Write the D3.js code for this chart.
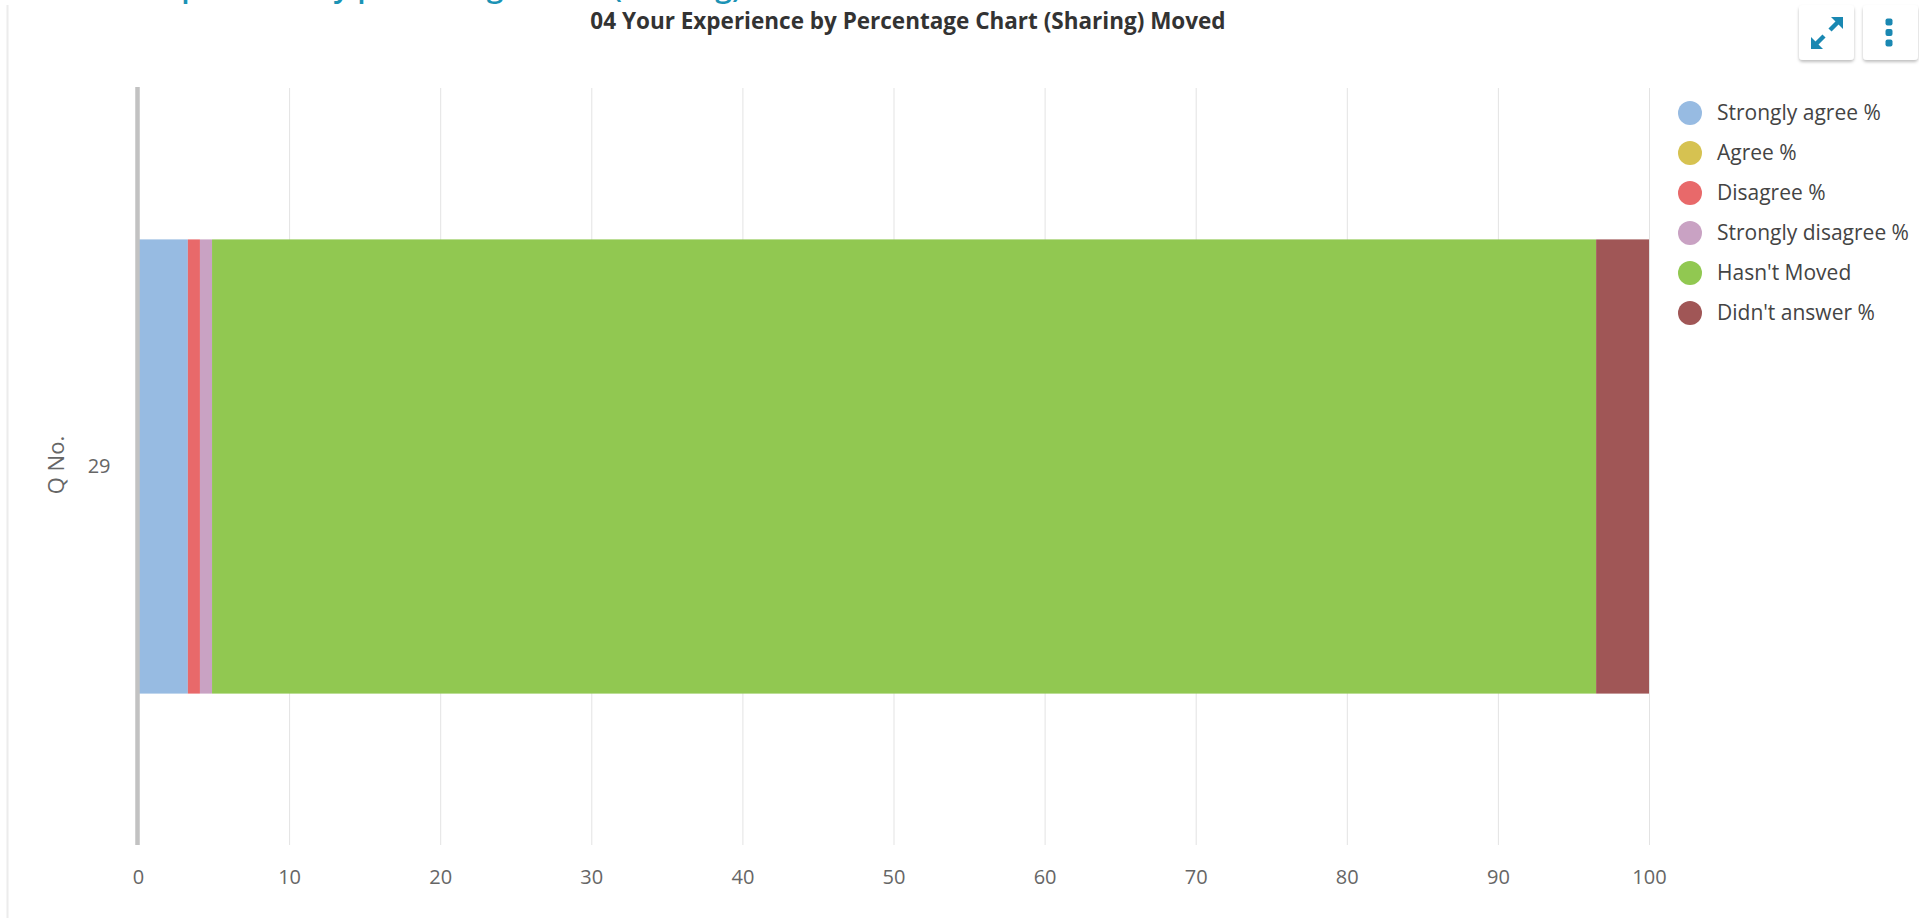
<!DOCTYPE html>
<html>
<head>
<meta charset="utf-8">
<script src="https://cdn.jsdelivr.net/npm/d3@7"></script>
<style>
  html, body { margin: 0; padding: 0; background: #fff; overflow: hidden; }
  svg { display: block; font-family: "Open Sans", "Noto Sans", sans-serif; }
</style>
</head>
<body>
<svg id="chart"></svg>
<script>
// data
let categories = ['29'];
let seriesNames = ['Strongly agree %', 'Agree %', 'Disagree %', 'Strongly disagree %', "Hasn't Moved", "Didn't answer %"];
let seriesValues = [[3.3], [0], [0.8], [0.8], [91.6], [3.5]];
let seriesColors = ['#97bbe2', '#d6c251', '#e8696a', '#c9a2c3', '#91c851', '#a05656'];
let xTicks = [0, 10, 20, 30, 40, 50, 60, 70, 80, 90, 100];

let width = 1919;
let height = 918;
let plot = { left: 138, right: 1649, top: 88, bottom: 845 };

let svg = d3.select('#chart').attr('width', width).attr('height', height);

// card edge on the left
svg.append('line')
    .attr('x1', 7.5).attr('x2', 7.5)
    .attr('y1', 5).attr('y2', height)
    .attr('stroke', '#ececec').attr('stroke-width', 2);

// page heading, cut off at the top (only its descenders show)
svg.append('text')
    .attr('x', 30).attr('y', -3)
    .attr('fill', '#1b93b5')
    .attr('font-size', 30).attr('font-weight', 600)
    .text('04 Your Experience by percentage chart (Sharing)');

// chart title
svg.append('text')
    .attr('x', 908).attr('y', 29)
    .attr('text-anchor', 'middle')
    .attr('fill', '#333')
    .attr('font-size', 22.5).attr('font-weight', 700)
    .text('04 Your Experience by Percentage Chart (Sharing) Moved');

// buttons top right
let defs = svg.append('defs');
let f = defs.append('filter').attr('id', 'shadow').attr('x', '-20%').attr('y', '-20%').attr('width', '140%').attr('height', '150%');
f.append('feDropShadow').attr('dx', 0).attr('dy', 2).attr('stdDeviation', 1.5).attr('flood-color', '#000').attr('flood-opacity', 0.25);

let buttons = [1799, 1863];
svg.selectAll('rect.btn').data(buttons).enter().append('rect')
    .attr('class', 'btn')
    .attr('x', d => d).attr('y', 5)
    .attr('width', 55).attr('height', 55).attr('rx', 4)
    .attr('fill', '#fff').attr('filter', 'url(#shadow)');

let iconColor = '#1a88b2';
let exp = svg.append('g').attr('transform', 'translate(1827,33)');
exp.append('line').attr('x1', 3).attr('y1', -3).attr('x2', 11).attr('y2', -11)
    .attr('stroke', iconColor).attr('stroke-width', 4.5);
exp.append('line').attr('x1', -3).attr('y1', 3).attr('x2', -11).attr('y2', 11)
    .attr('stroke', iconColor).attr('stroke-width', 4.5);
exp.append('path').attr('d', 'M16,-16 L4,-16 L16,-4 Z').attr('fill', iconColor);
exp.append('path').attr('d', 'M-16,16 L-4,16 L-16,4 Z').attr('fill', iconColor);

svg.selectAll('rect.dot').data([22, 32.5, 43]).enter().append('rect')
    .attr('class', 'dot')
    .attr('x', 1885.5).attr('y', d => d - 3.5)
    .attr('width', 7).attr('height', 7).attr('rx', 2)
    .attr('fill', iconColor);

// scales
let xScale = d3.scaleLinear().domain([0, 100]).range([plot.left, plot.right]);
let yScale = d3.scaleBand().domain(categories).range([plot.top, plot.bottom]).padding(0.25);

// grid lines
svg.append('g').selectAll('line').data(xTicks).enter().append('line')
    .attr('x1', d => xScale(d) + 0.5).attr('x2', d => xScale(d) + 0.5)
    .attr('y1', plot.top).attr('y2', plot.bottom)
    .attr('stroke', '#e3e3e3').attr('stroke-width', 1);

// stacked bars
let rows = categories.map((c, i) => {
    let row = { cat: c };
    seriesNames.forEach((s, j) => { row[s] = seriesValues[j][i]; });
    return row;
});
let stacked = d3.stack().keys(seriesNames)(rows);

svg.append('g').selectAll('g').data(stacked).enter().append('g')
    .attr('fill', (d, i) => seriesColors[i])
    .selectAll('rect').data(d => d).enter().append('rect')
    .attr('x', d => xScale(d[0]))
    .attr('width', d => xScale(d[1]) - xScale(d[0]))
    .attr('y', (d) => yScale(d.data.cat))
    .attr('height', yScale.bandwidth());

// x axis labels
let xAxis = d3.axisBottom(xScale).tickValues(xTicks).tickSize(0).tickPadding(0);
let gx = svg.append('g')
    .attr('transform', 'translate(0,' + plot.bottom + ')')
    .call(xAxis);
gx.select('.domain').remove();
gx.selectAll('text')
    .attr('y', 25)
    .attr('font-family', '"Open Sans", sans-serif')
    .attr('font-size', 20)
    .attr('fill', '#666');

// y axis
let yAxis = d3.axisLeft(yScale).tickSize(0).tickPadding(0);
let gy = svg.append('g')
    .attr('transform', 'translate(' + (plot.left - 0.5) + ',0)')
    .call(yAxis);
gy.select('.domain').remove();
gy.selectAll('text')
    .attr('x', -27)
    .attr('font-family', '"Open Sans", sans-serif')
    .attr('font-size', 20)
    .attr('fill', '#666');

svg.append('line')
    .attr('x1', plot.left - 0.5).attr('x2', plot.left - 0.5)
    .attr('y1', plot.top - 1).attr('y2', plot.bottom)
    .attr('stroke', '#c2c2c2').attr('stroke-width', 4.5);

svg.append('text')
    .attr('transform', 'translate(55,465) rotate(-90)')
    .attr('text-anchor', 'middle')
    .attr('dominant-baseline', 'central')
    .attr('font-size', 22)
    .attr('fill', '#666')
    .text('Q No.');

// legend
let legend = svg.append('g').attr('transform', 'translate(1690,113)');
let items = legend.selectAll('g').data(seriesNames).enter().append('g')
    .attr('transform', (d, i) => 'translate(0,' + (i * 40) + ')');
items.append('circle').attr('r', 12).attr('fill', (d, i) => seriesColors[i]);
items.append('text')
    .attr('x', 27).attr('y', 7)
    .attr('font-size', 21)
    .attr('fill', '#444')
    .text(d => d);
</script>
</body>
</html>
